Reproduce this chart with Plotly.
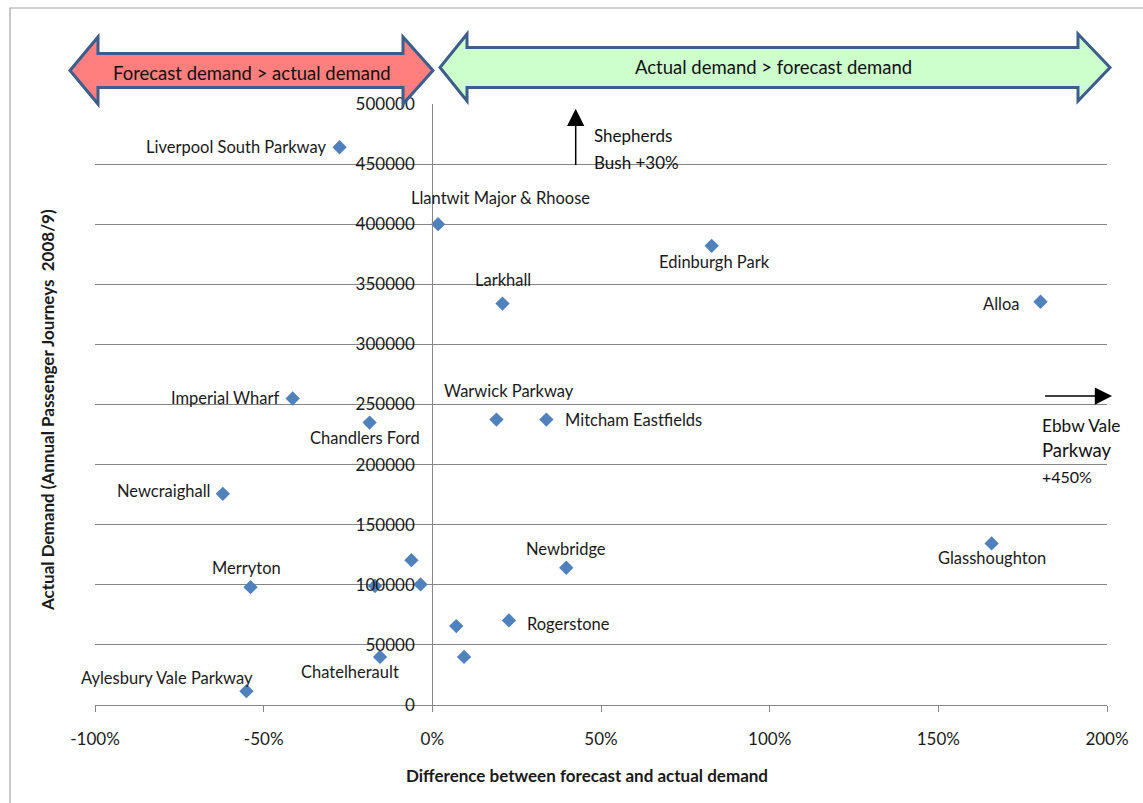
import plotly.graph_objects as go

# ---- data ----
stations = ["Liverpool South Parkway", "Llantwit Major & Rhoose", "Edinburgh Park", "Larkhall",
            "Alloa", "Imperial Wharf", "Chandlers Ford", "Warwick Parkway", "Mitcham Eastfields",
            "Newcraighall", "Glasshoughton", "Newbridge", "Merryton", "Rogerstone",
            "Chatelherault", "Aylesbury Vale Parkway", "", "", "", "", ""]
difference_pct = [-27.5, 1.7, 82.8, 20.8, 180.3, -41.4, -18.6, 19.0, 33.8, -62.1, 165.8, 39.7,
                  -53.9, 22.7, -15.5, -55.1, -6.2, -3.5, -17.0, 7.1, 9.4]
actual_demand = [464000, 400000, 382000, 334000, 335500, 255000, 235000, 237500, 237500,
                 175700, 134400, 114200, 98000, 70400, 40000, 11500, 120500, 100300, 99000,
                 65700, 40000]
x_ticks = [-100, -50, 0, 50, 100, 150, 200]
x_tick_labels = ["-100%", "-50%", "0%", "50%", "100%", "150%", "200%"]
y_ticks = [0, 50000, 100000, 150000, 200000, 250000, 300000, 350000, 400000, 450000, 500000]

# ---- label placement (style) : xanchor, xshift, yshift ----
label_style = {
    "Liverpool South Parkway": ("right", -12, 0),
    "Llantwit Major & Rhoose": ("center", 62, 26),
    "Edinburgh Park": ("center", 3, -16),
    "Larkhall": ("center", 0, 24),
    "Alloa": ("right", -20, -2),
    "Imperial Wharf": ("right", -11, 0),
    "Chandlers Ford": ("center", -5, -15),
    "Warwick Parkway": ("center", 13, 29),
    "Mitcham Eastfields": ("left", 17, 0),
    "Newcraighall": ("right", -10, 3),
    "Glasshoughton": ("center", 0, -15),
    "Newbridge": ("center", 0, 19),
    "Merryton": ("center", -4, 19),
    "Rogerstone": ("left", 16, -4),
    "Chatelherault": ("center", -30, -15),
    "Aylesbury Vale Parkway": ("center", -79, 13),
}

W, H = 1143, 803
L, R, T, B = 95, 36, 104, 98
FONT = "Lato"


def px(xp):
    return (xp - L) / (W - L - R)


def py(yp):
    return (H - B - yp) / (H - T - B)


fig = go.Figure()
fig.add_trace(go.Scatter(
    x=difference_pct, y=actual_demand, mode="markers",
    marker=dict(symbol="diamond", size=11, color="#4F81BD"),
    showlegend=False, hoverinfo="skip", cliponaxis=False,
))

annotations = []
for name, xv, yv in zip(stations, difference_pct, actual_demand):
    if not name:
        continue
    xa, xs, ys = label_style[name]
    annotations.append(dict(x=xv, y=yv, xref="x", yref="y", text=name, showarrow=False,
                            xanchor=xa, yanchor="middle", xshift=xs, yshift=ys,
                            font=dict(family=FONT, size=16.5, color="#1a1a1a")))

# axis titles
annotations.append(dict(x=px(587), y=py(776), xref="paper", yref="paper",
                        text="<b>Difference between forecast and actual demand</b>",
                        showarrow=False, xanchor="center", yanchor="middle",
                        font=dict(family=FONT, size=17, color="#1a1a1a")))
annotations.append(dict(x=px(47), y=py(410), xref="paper", yref="paper",
                        text="<b>Actual Demand (Annual Passenger Journeys  2008/9)</b>",
                        showarrow=False, textangle=-90, xanchor="center", yanchor="middle",
                        font=dict(family=FONT, size=17, color="#1a1a1a")))

# banner texts
annotations.append(dict(x=px(252), y=py(73), xref="paper", yref="paper",
                        text="Forecast demand > actual demand", showarrow=False,
                        xanchor="center", yanchor="middle",
                        font=dict(family=FONT, size=18.5, color="#111111")))
annotations.append(dict(x=px(773), y=py(67), xref="paper", yref="paper",
                        text="Actual demand > forecast demand", showarrow=False,
                        xanchor="center", yanchor="middle",
                        font=dict(family=FONT, size=18.5, color="#111111")))

# off-scale arrows
annotations.append(dict(x=42.5, y=496000, ax=42.5, ay=448000, xref="x", yref="y",
                        axref="x", ayref="y", text="", showarrow=True, arrowhead=2,
                        arrowsize=2.3, arrowwidth=1.5, arrowcolor="#000000"))
annotations.append(dict(x=px(592), y=py(136), xref="paper", yref="paper", text="Shepherds",
                        showarrow=False, xanchor="left", yanchor="middle",
                        font=dict(family=FONT, size=17, color="#111111")))
annotations.append(dict(x=px(592), y=py(162), xref="paper", yref="paper", text="Bush +30%",
                        showarrow=False, xanchor="left", yanchor="middle",
                        font=dict(family=FONT, size=17, color="#111111")))
annotations.append(dict(x=201.5, y=257000, ax=181.2, ay=257000, xref="x", yref="y",
                        axref="x", ayref="y", text="", showarrow=True, arrowhead=2,
                        arrowsize=2.3, arrowwidth=1.5, arrowcolor="#000000"))
annotations.append(dict(x=px(1040), y=py(425), xref="paper", yref="paper", text="Ebbw Vale",
                        showarrow=False, xanchor="left", yanchor="middle",
                        font=dict(family=FONT, size=17.3, color="#111111")))
annotations.append(dict(x=px(1040), y=py(450), xref="paper", yref="paper", text="Parkway",
                        showarrow=False, xanchor="left", yanchor="middle",
                        font=dict(family=FONT, size=18.5, color="#111111")))
annotations.append(dict(x=px(1040), y=py(476), xref="paper", yref="paper", text="+450%",
                        showarrow=False, xanchor="left", yanchor="middle",
                        font=dict(family=FONT, size=16, color="#111111")))


def arrow_path(x0, x1, yc, hi0, hi1, half_head, half_body):
    pts = [(x0, yc), (hi0, yc - half_head), (hi0, yc - half_body), (hi1, yc - half_body),
           (hi1, yc - half_head), (x1, yc), (hi1, yc + half_head), (hi1, yc + half_body),
           (hi0, yc + half_body), (hi0, yc + half_head)]
    return "M " + " L ".join(f"{px(a):.5f},{py(b):.5f}" for a, b in pts) + " Z"


shapes = [
    # outer chart frame
    dict(type="path", xref="paper", yref="paper",
         path=f"M {px(10)},{py(830)} L {px(10)},{py(8)} L {px(1170)},{py(8)}",
         line=dict(color="#A6A6A6", width=1.2), layer="above"),
    dict(type="path", xref="paper", yref="paper",
         path=arrow_path(70, 433, 70.5, 98, 403, 33.5, 17),
         fillcolor="#FF7F7F", line=dict(color="#3B5E8C", width=3), layer="above"),
    dict(type="path", xref="paper", yref="paper",
         path=arrow_path(440, 1110, 67.5, 467, 1078, 33.5, 20),
         fillcolor="#CCFFCC", line=dict(color="#3B5E8C", width=3), layer="above"),
]

fig.update_layout(
    width=W, height=H,
    margin=dict(l=L, r=R, t=T, b=B),
    paper_bgcolor="white", plot_bgcolor="white",
    font=dict(family=FONT, size=16.5, color="#1a1a1a"),
    xaxis=dict(range=[-100, 200], tickvals=x_ticks, ticktext=x_tick_labels,
               showgrid=False, zeroline=False, showline=True, linecolor="#868686",
               linewidth=1.3, ticks="outside", ticklen=6, tickcolor="#868686",
               ticklabelstandoff=12, tickfont=dict(family=FONT, size=17)),
    yaxis=dict(range=[0, 500000], tickvals=y_ticks, tickformat="d",
               showgrid=True, gridcolor="#868686", gridwidth=1.3, zeroline=False,
               showline=True, linecolor="#868686", linewidth=1.3, ticks="",
               anchor="free", position=1 / 3, ticklabelstandoff=14,
               tickfont=dict(family=FONT, size=17)),
    annotations=annotations,
    shapes=shapes,
)

fig.write_html("out.html")
